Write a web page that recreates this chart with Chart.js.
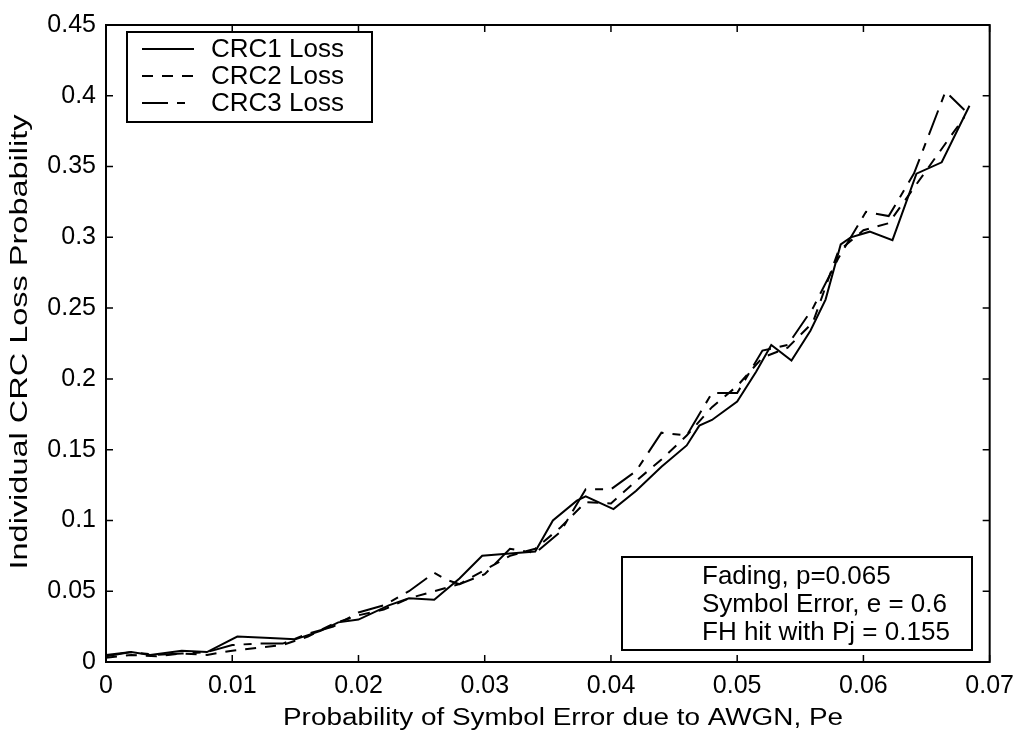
<!DOCTYPE html>
<html>
<head>
<meta charset="utf-8">
<script src="https://cdn.jsdelivr.net/npm/chart.js@4"></script>
<style>
  html, body { margin: 0; padding: 0; background: #fff; }
  #wrap { width: 1023px; height: 740px; }
</style>
</head>
<body>
<div id="wrap"><canvas id="chart" width="1023" height="740"></canvas></div>
<script>
var crc1X = [0, 0.002, 0.0035, 0.006, 0.008, 0.0104, 0.013, 0.015, 0.017, 0.0184, 0.02, 0.0224, 0.024, 0.026, 0.028, 0.0298, 0.031, 0.034, 0.0354, 0.0373, 0.038, 0.0402, 0.042, 0.044, 0.046, 0.047, 0.048, 0.05, 0.0515, 0.0527, 0.0543, 0.0558, 0.057, 0.0582, 0.059, 0.0605, 0.0623, 0.0642, 0.0662, 0.0684];
var crc1Y = [0.004, 0.007, 0.005, 0.008, 0.007, 0.018, 0.017, 0.016, 0.022, 0.028, 0.03, 0.04, 0.045, 0.044, 0.059, 0.075, 0.076, 0.078, 0.1, 0.114, 0.117, 0.108, 0.121, 0.138, 0.153, 0.167, 0.171, 0.184, 0.205, 0.224, 0.213, 0.234, 0.256, 0.295, 0.3, 0.304, 0.298, 0.345, 0.353, 0.393];

var crc2X = [0, 0.002, 0.004, 0.006, 0.008, 0.01, 0.012, 0.014, 0.016, 0.018, 0.02, 0.022, 0.024, 0.026, 0.028, 0.03, 0.032, 0.034, 0.036, 0.038, 0.04, 0.042, 0.044, 0.046, 0.048, 0.05, 0.052, 0.054, 0.056, 0.058, 0.06, 0.062, 0.064, 0.066, 0.068];
var crc2Y = [0.003, 0.005, 0.004, 0.006, 0.005, 0.008, 0.01, 0.012, 0.018, 0.027, 0.033, 0.037, 0.045, 0.05, 0.055, 0.065, 0.075, 0.08, 0.095, 0.113, 0.112, 0.128, 0.143, 0.16, 0.18, 0.195, 0.215, 0.222, 0.24, 0.29, 0.305, 0.31, 0.335, 0.36, 0.385];

var crc3X = [0, 0.002, 0.004, 0.006, 0.008, 0.01, 0.012, 0.014, 0.016, 0.018, 0.02, 0.022, 0.024, 0.026, 0.027, 0.028, 0.03, 0.032, 0.034, 0.036, 0.038, 0.04, 0.042, 0.044, 0.046, 0.048, 0.05, 0.052, 0.054, 0.056, 0.058, 0.0602, 0.062, 0.064, 0.0665, 0.068];
var crc3Y = [0.005, 0.007, 0.005, 0.006, 0.007, 0.012, 0.013, 0.013, 0.02, 0.025, 0.035, 0.04, 0.05, 0.063, 0.058, 0.055, 0.062, 0.08, 0.077, 0.092, 0.122, 0.122, 0.135, 0.162, 0.16, 0.19, 0.19, 0.22, 0.224, 0.25, 0.285, 0.318, 0.315, 0.345, 0.403, 0.39];

var seriesNames = ["CRC1 Loss", "CRC2 Loss", "CRC3 Loss"];
var noteLines = ["Fading, p=0.065", "Symbol Error, e = 0.6", "FH hit with Pj = 0.155"];
var xTitle = "Probability of Symbol Error due to AWGN, Pe";
var yTitle = "Individual CRC Loss Probability";

var FONT = "'Liberation Sans', Arial, sans-serif";

function points(xs, ys) {
  return xs.map(function (x, i) { return { x: x, y: ys[i] }; });
}
function fmt(v) {
  return String(parseFloat(v.toFixed(3)));
}

// draw text squeezed/stretched to a given width, like the scanned original
function stretchText(ctx, text, cx, cy, width, angle) {
  var w = ctx.measureText(text).width;
  ctx.save();
  ctx.translate(cx, cy);
  ctx.rotate(angle);
  ctx.scale(width / w, 1);
  ctx.textAlign = "center";
  ctx.textBaseline = "middle";
  ctx.fillText(text, 0, 0);
  ctx.restore();
}

// frame, inward ticks, titles, legend and note box
var decorations = {
  id: "decorations",
  afterDraw: function (chart) {
    var ctx = chart.ctx, a = chart.chartArea;
    var xs = chart.scales.x, ys = chart.scales.y;
    ctx.save();
    ctx.strokeStyle = "#000";
    ctx.lineWidth = 2;
    ctx.setLineDash([]);
    ctx.strokeRect(a.left, a.top, a.right - a.left, a.bottom - a.top);
    ctx.lineWidth = 1.5;
    ctx.beginPath();
    xs.ticks.forEach(function (t) {
      var px = xs.getPixelForValue(t.value);
      ctx.moveTo(px, a.bottom); ctx.lineTo(px, a.bottom - 7);
      ctx.moveTo(px, a.top); ctx.lineTo(px, a.top + 7);
    });
    ys.ticks.forEach(function (t) {
      var py = ys.getPixelForValue(t.value);
      ctx.moveTo(a.left, py); ctx.lineTo(a.left + 7, py);
      ctx.moveTo(a.right, py); ctx.lineTo(a.right - 7, py);
    });
    ctx.stroke();

    // axis titles
    ctx.fillStyle = "#000";
    ctx.font = "23px " + FONT;
    stretchText(ctx, xTitle, 563, 719, 560, 0);
    stretchText(ctx, yTitle, 21, 342, 455, -Math.PI / 2);

    // legend
    ctx.fillStyle = "#fff";
    ctx.fillRect(127, 32, 245, 90);
    ctx.lineWidth = 2;
    ctx.strokeRect(127, 32, 245, 90);
    ctx.font = "26px " + FONT;
    ctx.textAlign = "left";
    ctx.textBaseline = "middle";
    ctx.fillStyle = "#000";
    chart.data.datasets.forEach(function (ds, i) {
      var y = 49 + i * 27;
      ctx.lineWidth = 2;
      ctx.setLineDash(ds.borderDash || []);
      ctx.beginPath();
      ctx.moveTo(142, y); ctx.lineTo(194, y);
      ctx.stroke();
      ctx.setLineDash([]);
      ctx.fillText(seriesNames[i], 211, y + 1);
    });

    // note box
    ctx.fillStyle = "#fff";
    ctx.fillRect(622, 557, 350, 93);
    ctx.lineWidth = 2;
    ctx.strokeRect(622, 557, 350, 93);
    ctx.fillStyle = "#000";
    noteLines.forEach(function (line, i) {
      ctx.fillText(line, 702, 577 + i * 28);
    });
    ctx.restore();
  }
};

new Chart(document.getElementById("chart"), {
  type: "line",
  data: {
    datasets: [
      { label: seriesNames[0], data: points(crc1X, crc1Y), borderColor: "#000", borderWidth: 2, borderDash: [] },
      { label: seriesNames[1], data: points(crc2X, crc2Y), borderColor: "#000", borderWidth: 2, borderDash: [11, 9] },
      { label: seriesNames[2], data: points(crc3X, crc3Y), borderColor: "#000", borderWidth: 2, borderDash: [26, 9, 8, 9] }
    ]
  },
  options: {
    responsive: false,
    animation: false,
    layout: { padding: { top: 24, right: 25, left: 0, bottom: 0 } },
    elements: { point: { radius: 0 }, line: { tension: 0 } },
    plugins: { legend: { display: false }, tooltip: { enabled: false } },
    scales: {
      x: {
        type: "linear", min: 0, max: 0.07,
        grid: { display: false, drawTicks: false },
        border: { display: false },
        ticks: { stepSize: 0.01, padding: 9, color: "#000", font: { size: 25, family: FONT }, callback: fmt, maxRotation: 0 },
        afterFit: function (s) { s.height = 78; }
      },
      y: {
        type: "linear", min: 0, max: 0.45,
        grid: { display: false, drawTicks: false },
        border: { display: false },
        ticks: { stepSize: 0.05, padding: 10, color: "#000", font: { size: 25, family: FONT }, callback: fmt },
        afterFit: function (s) { s.width = 106; }
      }
    }
  },
  plugins: [decorations]
});
</script>
</body>
</html>
